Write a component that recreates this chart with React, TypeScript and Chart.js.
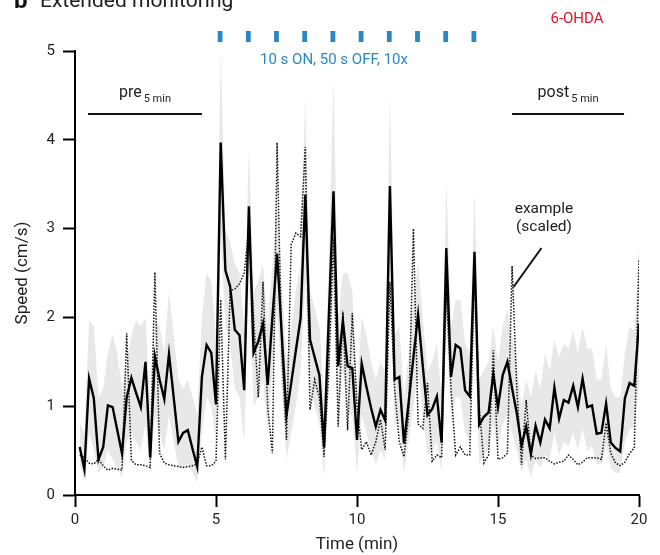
import React, { useEffect, useRef } from 'react';
import { Chart, registerables } from 'chart.js';

Chart.register(...registerables);

// sample times: one value every 10 s (k/6 min), k = 1..120
const timeMin: number[] = Array.from({ length: 120 }, (_, i) => (i + 1) / 6);

const meanSpeed = [
  0.54, 0.29, 1.31, 1.09, 0.40, 0.54, 1.01, 0.99, 0.73, 0.47,
  1.10, 1.32, 1.15, 0.99, 1.50, 0.42, 1.56, 1.30, 1.08, 1.59,
  1.10, 0.60, 0.70, 0.73, 0.52, 0.32, 1.33, 1.69, 1.60, 1.02,
  3.97, 2.53, 2.35, 1.86, 1.80, 1.18, 3.25, 1.60, 1.73, 1.93,
  1.24, 2.00, 2.72, 1.80, 0.90, 1.26, 1.63, 1.99, 3.38, 1.75,
  1.55, 1.35, 0.54, 2.00, 3.42, 1.45, 1.96, 1.45, 1.43, 0.62,
  1.48, 1.22, 0.98, 0.77, 0.96, 0.84, 3.48, 1.30, 1.33, 0.58,
  1.05, 1.55, 2.03, 1.45, 0.90, 0.97, 1.11, 0.59, 2.78, 1.33,
  1.69, 1.65, 1.18, 1.11, 2.74, 0.79, 0.88, 0.93, 1.36, 0.99,
  1.35, 1.50, 1.20, 0.92, 0.56, 0.77, 0.46, 0.78, 0.59, 0.85,
  0.75, 1.21, 0.86, 1.07, 1.04, 1.23, 0.99, 1.31, 0.99, 1.01,
  0.69, 0.70, 1.03, 0.59, 0.53, 0.49, 1.09, 1.26, 1.23, 1.93,
];

const exampleSpeed = [
  0.45, 0.42, 0.36, 0.35, 0.40, 0.33, 0.28, 0.30, 0.29, 0.28,
  1.82, 0.39, 0.34, 0.34, 0.33, 0.31, 2.51, 0.47, 0.36, 0.34,
  0.33, 0.32, 0.31, 0.32, 0.33, 0.35, 0.54, 0.33, 0.33, 0.38,
  2.20, 0.40, 2.30, 2.32, 2.38, 2.50, 3.00, 2.00, 1.10, 2.40,
  1.00, 0.47, 3.97, 1.60, 0.62, 2.82, 2.95, 2.91, 3.92, 0.96,
  1.30, 1.10, 0.43, 1.40, 2.90, 0.77, 2.06, 0.73, 2.05, 1.00,
  0.51, 0.60, 0.45, 0.60, 0.85, 0.51, 2.40, 1.20, 0.60, 0.43,
  0.90, 3.00, 0.80, 0.75, 1.26, 0.38, 0.45, 0.42, 2.30, 1.20,
  0.45, 0.54, 0.45, 0.45, 2.60, 1.00, 0.36, 0.45, 1.63, 0.40,
  0.42, 0.47, 2.58, 1.20, 0.34, 1.07, 0.45, 0.41, 0.42, 0.42,
  0.38, 0.35, 0.37, 0.38, 0.45, 0.40, 0.34, 0.37, 0.42, 0.42,
  0.42, 0.40, 0.81, 0.47, 0.36, 0.33, 0.37, 0.47, 0.53, 2.65,
];

const bandUpper = [
  0.81, 0.70, 1.97, 1.90, 1.10, 1.20, 1.60, 1.82, 1.60, 1.20,
  1.50, 1.80, 1.97, 1.90, 2.00, 1.00, 2.00, 1.90, 1.60, 2.30,
  1.80, 1.30, 1.20, 1.30, 1.10, 0.90, 2.00, 2.50, 2.40, 1.80,
  5.00, 3.00, 2.85, 2.60, 2.50, 1.90, 3.92, 2.30, 2.40, 2.60,
  1.90, 2.60, 3.30, 2.40, 1.50, 1.90, 2.30, 2.60, 4.50, 2.30,
  2.10, 1.90, 1.10, 2.60, 4.70, 2.00, 2.50, 2.50, 2.30, 1.20,
  2.00, 1.80, 1.50, 1.30, 1.50, 1.40, 4.50, 1.80, 1.90, 1.10,
  1.60, 2.20, 2.60, 2.00, 1.40, 1.50, 1.70, 1.10, 3.55, 1.90,
  2.20, 2.20, 1.70, 1.60, 3.45, 1.30, 1.40, 1.50, 1.90, 1.50,
  1.90, 2.10, 1.80, 1.50, 1.00, 1.30, 1.10, 1.40, 1.20, 1.60,
  1.40, 1.75, 1.55, 1.70, 1.65, 1.85, 1.60, 1.90, 1.65, 1.65,
  1.30, 1.30, 1.70, 1.20, 1.10, 1.10, 1.60, 1.90, 1.85, 2.80,
];

const bandLower = [
  0.35, 0.15, 0.70, 0.50, 0.25, 0.30, 0.50, 0.40, 0.30, 0.20,
  0.60, 0.70, 0.60, 0.50, 0.80, 0.25, 0.90, 0.70, 0.50, 0.90,
  0.60, 0.30, 0.30, 0.35, 0.25, 0.15, 0.70, 1.10, 1.00, 0.60,
  2.90, 1.90, 1.70, 1.20, 1.10, 0.60, 2.50, 1.00, 1.10, 1.30,
  0.70, 1.40, 2.10, 1.20, 0.40, 0.70, 1.00, 1.40, 2.40, 1.20,
  1.00, 0.80, 0.20, 1.40, 2.30, 0.90, 1.40, 0.90, 0.90, 0.25,
  0.90, 0.70, 0.50, 0.35, 0.50, 0.40, 2.50, 0.80, 0.80, 0.25,
  0.60, 1.00, 1.40, 0.90, 0.45, 0.50, 0.60, 0.25, 2.00, 0.80,
  1.10, 1.10, 0.70, 0.60, 2.00, 0.35, 0.45, 0.50, 0.80, 0.50,
  0.80, 0.90, 0.70, 0.50, 0.25, 0.40, 0.20, 0.40, 0.30, 0.45,
  0.40, 0.70, 0.45, 0.60, 0.55, 0.70, 0.50, 0.75, 0.50, 0.55,
  0.35, 0.35, 0.55, 0.30, 0.25, 0.25, 0.60, 0.75, 0.75, 1.20,
];

const xTicks = [0, 5, 10, 15, 20];
const yTicks = [0, 1, 2, 3, 4, 5];
const stimOnsets = [5, 6, 7, 8, 9, 10, 11, 12, 13, 14];
const preWindow = [0.46, 4.5];
const postWindow = [15.5, 19.47];

const FONT = 'Roboto, "Noto Sans", sans-serif';
const BLUE = '#2b86c4';
const RED = '#e3132b';
const INK = '#1e1e1e';

const annotations = {
  id: 'annotations',
  afterDraw(chart: any) {
    const { ctx } = chart;
    const xs = chart.scales.x;
    const ys = chart.scales.y;
    ctx.save();
    ctx.textBaseline = 'alphabetic';

    // panel letter + title (cut at top)
    ctx.fillStyle = '#111';
    ctx.font = `bold 24px ${FONT}`;
    ctx.textAlign = 'left';
    ctx.fillText('b', 14, 8);
    ctx.fillStyle = INK;
    ctx.font = `21px ${FONT}`;
    ctx.fillText('Extended monitoring', 40, 7);

    // 6-OHDA
    ctx.fillStyle = RED;
    ctx.font = `15px ${FONT}`;
    ctx.textAlign = 'center';
    ctx.fillText('6-OHDA', 577, 23);

    // stimulation bars
    ctx.fillStyle = BLUE;
    stimOnsets.forEach((t) => {
      const x1 = xs.getPixelForValue(t + 0.06);
      const x2 = xs.getPixelForValue(t + 0.23);
      ctx.fillRect(x1, 31, x2 - x1, 11);
    });
    ctx.font = `15px ${FONT}`;
    ctx.textAlign = 'center';
    ctx.fillText('10 s ON, 50 s OFF, 10x', 334, 64);

    // pre / post windows
    const drawWindow = (w: number[], main: string) => {
      const x1 = xs.getPixelForValue(w[0]);
      const x2 = xs.getPixelForValue(w[1]);
      const yLine = ys.getPixelForValue(4.29);
      ctx.strokeStyle = '#111';
      ctx.lineWidth = 2;
      ctx.beginPath();
      ctx.moveTo(x1, yLine);
      ctx.lineTo(x2, yLine);
      ctx.stroke();
      ctx.fillStyle = INK;
      ctx.font = `16px ${FONT}`;
      const mw = ctx.measureText(main).width;
      ctx.font = `11px ${FONT}`;
      const sw = ctx.measureText('5 min').width;
      const total = mw + 2 + sw;
      const start = (x1 + x2) / 2 - total / 2;
      ctx.textAlign = 'left';
      ctx.font = `16px ${FONT}`;
      ctx.fillText(main, start, 97);
      ctx.font = `11px ${FONT}`;
      ctx.fillText('5 min', start + mw + 2, 102);
    };
    drawWindow(preWindow, 'pre');
    drawWindow(postWindow, 'post');

    // example label
    ctx.fillStyle = INK;
    ctx.textAlign = 'center';
    ctx.font = `15.5px ${FONT}`;
    ctx.fillText('example', 544, 213);
    ctx.fillText('(scaled)', 544, 231);
    ctx.strokeStyle = '#111';
    ctx.lineWidth = 2;
    ctx.beginPath();
    ctx.moveTo(541.5, 248);
    ctx.lineTo(513.5, 287);
    ctx.stroke();

    ctx.restore();
  },
};

export default function App() {
  const canvasRef = useRef<HTMLCanvasElement | null>(null);

  useEffect(() => {
    document.body.style.margin = '0';
    const canvas = canvasRef.current;
    if (!canvas) return;
    const toPts = (arr: number[]) => arr.map((v, i) => ({ x: timeMin[i], y: v }));

    const chart = new Chart(canvas, {
      type: 'line',
      data: {
        datasets: [
          {
            label: 'mean',
            data: toPts(meanSpeed),
            borderColor: '#000',
            borderWidth: 2.4,
            pointRadius: 0,
            tension: 0,
            fill: false,
            order: 0,
          },
          {
            label: 'example',
            data: toPts(exampleSpeed),
            borderColor: '#111',
            borderWidth: 1.5,
            borderDash: [1.5, 1.5],
            pointRadius: 0,
            tension: 0,
            fill: false,
            order: 1,
          },
          {
            label: 'lower',
            data: toPts(bandLower),
            borderColor: 'rgba(0,0,0,0)',
            borderWidth: 0,
            pointRadius: 0,
            fill: false,
            order: 3,
          },
          {
            label: 'upper',
            data: toPts(bandUpper),
            borderColor: 'rgba(0,0,0,0)',
            borderWidth: 0,
            pointRadius: 0,
            backgroundColor: '#e8e8e8',
            fill: '-1',
            order: 2,
          },
        ],
      },
      options: {
        animation: false,
        responsive: false,
        maintainAspectRatio: false,
        layout: { padding: { top: 51, right: 21, left: 0, bottom: 0 } },
        plugins: {
          legend: { display: false },
          tooltip: { enabled: false },
          filler: { propagate: false },
        },
        scales: {
          x: {
            type: 'linear',
            min: 0,
            max: 20,
            afterBuildTicks: (s: any) => {
              s.ticks = xTicks.map((v) => ({ value: v }));
            },
            afterFit: (s: any) => {
              s.height = 60;
            },
            ticks: {
              color: INK,
              font: { family: FONT, size: 15 },
              padding: 4,
              maxRotation: 0,
            },
            grid: {
              drawOnChartArea: false,
              drawTicks: true,
              tickLength: 12,
              tickWidth: 2,
              tickColor: '#000',
            },
            border: { display: true, color: '#000', width: 2 },
            title: {
              display: true,
              text: 'Time (min)',
              color: INK,
              font: { family: FONT, size: 17 },
              padding: { top: 0, bottom: 0 },
            },
          },
          y: {
            type: 'linear',
            min: 0,
            max: 5,
            afterBuildTicks: (s: any) => {
              s.ticks = yTicks.map((v) => ({ value: v }));
            },
            afterFit: (s: any) => {
              s.width = 75;
            },
            ticks: {
              color: INK,
              font: { family: FONT, size: 15 },
              padding: 8,
            },
            grid: {
              drawOnChartArea: false,
              drawTicks: true,
              tickLength: 12,
              tickWidth: 2,
              tickColor: '#000',
            },
            border: { display: true, color: '#000', width: 2 },
            title: {
              display: true,
              text: 'Speed (cm/s)',
              color: INK,
              font: { family: FONT, size: 17 },
              padding: { top: 13, bottom: 0 },
            },
          },
        },
      },
      plugins: [annotations],
    } as any);

    return () => chart.destroy();
  }, []);

  return (
    <div style={{ width: 660, height: 555, background: '#fff' }}>
      <canvas ref={canvasRef} width={660} height={555} style={{ display: 'block', width: 660, height: 555 }} />
    </div>
  );
}
